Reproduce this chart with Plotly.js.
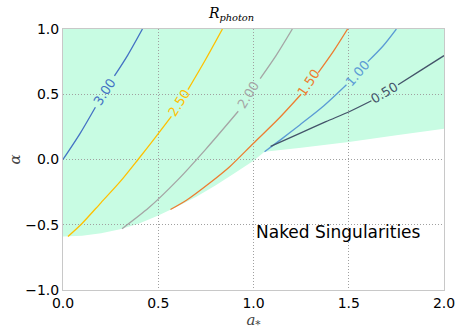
<!DOCTYPE html>
<html>
<head>
<meta charset="utf-8">
<script src="https://cdn.plot.ly/plotly-3.0.1.min.js"></script>
<style>
  html, body { margin: 0; padding: 0; background: #fff; }
  #plot { width: 463px; height: 335px; }
</style>
</head>
<body>
<div id="plot"></div>
<script>
// Borde de la región sombreada (fuera de las singularidades desnudas)
const lowerA = [0, 0.1, 0.2, 0.3, 0.4, 0.5, 0.6, 0.7, 0.8, 0.9, 1.0, 1.058];
const lowerAlpha = [-0.59, -0.585, -0.565, -0.535, -0.49, -0.43, -0.36, -0.285, -0.2, -0.105, -0.01, 0.06];
const upperA = [1.058, 1.25, 1.5, 1.75, 2.0];
const upperAlpha = [0.06, 0.09, 0.135, 0.185, 0.235];

// Curvas de nivel de R_photon (null = hueco de la etiqueta)
const levels = ['3.00', '2.50', '2.00', '1.50', '1.00', '0.50'];
const colors = ['#4472C4', '#FFC000', '#A5A5A5', '#ED7D31', '#5B9BD5', '#44546A'];
const contourA = [
  [0, 0.09, 0.17, null, 0.27, 0.34, 0.417],
  [0.026, 0.1, 0.2, 0.3, 0.394, 0.48, 0.569, null, 0.656, 0.75, 0.837],
  [0.31, 0.45, 0.6, 0.75, 0.92, null, 1.035, 1.12, 1.204],
  [0.564, 0.65, 0.77, 0.875, 1.0, 1.13, 1.25, null, 1.34, 1.42, 1.494],
  [1.058, 1.15, 1.243, 1.36, 1.488, null, 1.6, 1.68, 1.75],
  [1.09, 1.243, 1.38, 1.505, 1.619, null, 1.759, 1.88, 2.0]
];
const contourAlpha = [
  [0, 0.2, 0.4, null, 0.64, 0.8, 1.0],
  [-0.59, -0.49, -0.33, -0.17, 0.0, 0.16, 0.33, null, 0.535, 0.77, 1.0],
  [-0.53, -0.37, -0.16, 0.08, 0.37, null, 0.62, 0.8, 1.0],
  [-0.383, -0.31, -0.18, -0.055, 0.125, 0.31, 0.5, null, 0.665, 0.83, 1.0],
  [0.06, 0.16, 0.265, 0.4, 0.573, null, 0.75, 0.87, 1.0],
  [0.1, 0.2, 0.29, 0.368, 0.45, null, 0.573, 0.685, 0.796]
];
// Posición y ángulo de cada etiqueta
const labelA = [0.22, 0.612, 0.975, 1.29, 1.545, 1.69];
const labelAlpha = [0.52, 0.433, 0.495, 0.59, 0.66, 0.51];
const labelAngle = [57, 58, 58, 56, 49, 31];

// Región sombreada como forma por debajo de la rejilla
const regionA = [0, 2].concat(upperA.slice().reverse(), lowerA.slice().reverse());
const regionAlpha = [1, 1].concat(upperAlpha.slice().reverse(), lowerAlpha.slice().reverse());
const regionPath = regionA.map((a, i) => (i === 0 ? 'M' : 'L') + a + ',' + regionAlpha[i]).join(' ') + ' Z';

const data = levels.map((lv, i) => ({
  x: contourA[i], y: contourAlpha[i],
  mode: 'lines', line: { color: colors[i], width: 1.3, shape: 'spline', smoothing: 0.8 },
  connectgaps: false, showlegend: false, name: lv
}));

const annotations = levels.map((lv, i) => ({
  x: labelA[i], y: labelAlpha[i], xref: 'x', yref: 'y',
  text: lv, showarrow: false, textangle: -labelAngle[i],
  font: { family: 'DejaVu Sans', size: 13, color: colors[i] }
}));

annotations.push({
  x: 1.0, y: -0.555, xref: 'x', yref: 'y', xanchor: 'left',
  text: 'Naked Singularities', showarrow: false,
  font: { family: 'DejaVu Sans', size: 17, color: '#000' }
});

const axisCommon = {
  showgrid: true, gridcolor: '#a0a0a0', griddash: '1px,2px', gridwidth: 1,
  zeroline: false, showline: true, linecolor: '#c8c8c8', linewidth: 1, mirror: true,
  ticks: '', tickfont: { family: 'DejaVu Sans', size: 14, color: '#000' },
  dtick: 0.5, tickformat: '.1f'
};

const layout = {
  width: 463, height: 335,
  margin: { l: 63, r: 19, t: 29, b: 45 },
  paper_bgcolor: '#fff', plot_bgcolor: '#fff',
  title: {
    text: '<i>R</i><sub><i>photon</i></sub>',
    font: { family: 'DejaVu Serif', size: 14, color: '#000' },
    x: 0.5, xanchor: 'center', y: 0.975, yanchor: 'top'
  },
  xaxis: Object.assign({}, axisCommon, {
    range: [0, 2], tick0: 0,
    title: { text: '<i>a</i><sub>*</sub>', font: { family: 'DejaVu Serif', size: 15 }, standoff: 3 }
  }),
  yaxis: Object.assign({}, axisCommon, {
    range: [-1, 1], tick0: -1,
    title: { text: '<i>α</i>', font: { family: 'DejaVu Serif', size: 15 }, standoff: 0 }
  }),
  shapes: [{
    type: 'path', xref: 'x', yref: 'y', path: regionPath,
    fillcolor: '#c8fce3', line: { width: 0 }, layer: 'below'
  }],
  annotations: annotations
};

Plotly.newPlot('plot', data, layout, { displayModeBar: false, staticPlot: true });
</script>
</body>
</html>
